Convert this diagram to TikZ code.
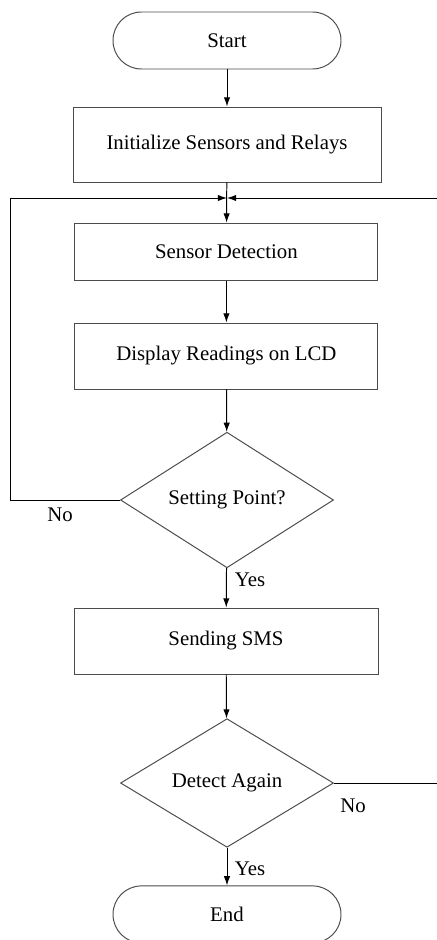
\documentclass[tikz,border=0pt]{standalone}
\usepackage{fontspec}
\setmainfont{Liberation Serif}
\usetikzlibrary{shapes.geometric,arrows.meta}

\tikzset{
  >={Latex[length=2.3mm,width=1.6mm]},
  box/.style={draw=black!70, line width=0.7pt, inner sep=0pt, align=center},
  term/.style={box, rounded corners=0.71cm, minimum width=5.7cm, minimum height=1.425cm},
  proc/.style={box, minimum width=7.575cm, minimum height=1.65cm},
  decide/.style={box, diamond, minimum width=5.325cm, minimum height=3.2cm},
  flow/.style={->, line width=0.7pt}
}

\begin{document}
\begin{tikzpicture}[y=-1cm, font=\fontsize{14.8}{17}\selectfont]
    \useasboundingbox (0,0) rectangle (10.925,23.5);

    \coordinate (loopL) at (0.25, 4.95);
    \coordinate (join) at (5.675, 4.95);
    \coordinate (loopR) at (11.0, 4.95);

    \node[term] (start) at (5.675, 1.0125) {Start};
    \node[proc, minimum width=7.7cm, minimum height=1.875cm] (init) at (5.675, 3.6125) {Initialize Sensors and Relays};
    \node[proc, minimum height=1.425cm] (sense) at (5.66, 6.29) {Sensor Detection};
    \node[proc] (lcd) at (5.66, 8.9) {Display Readings on LCD};
    \node[decide] (setp) at (5.675, 12.5) {Setting Point?};
    \node[proc, minimum width=7.6cm] (sms) at (5.65, 16.025) {Sending SMS};
    \node[decide] (again) at (5.675, 19.575) {Detect Again};
    \node[term] (finish) at (5.675, 22.86) {End};

    \draw[flow] (start) -- (init);
    \draw[flow] (init) -- (sense);
    \draw[flow] (sense) -- (lcd);
    \draw[flow] (lcd) -- (setp);
    \draw[flow] (setp) -- (sms);
    \draw[flow] (sms) -- (again);
    \draw[flow] (again) -- (finish);

    % back to the sensors
    \draw[flow] (setp.west) -| (loopL) -- (join);
    \draw[flow] (again.east) -| (loopR) -- (join);

    \node (no1) at (1.5, 12.875) {No};
    \node (yes1) at (6.25, 14.5) {Yes};
    \node (no2) at (8.825, 20.15) {No};
    \node (yes2) at (6.25, 21.725) {Yes};
\end{tikzpicture}
\end{document}
